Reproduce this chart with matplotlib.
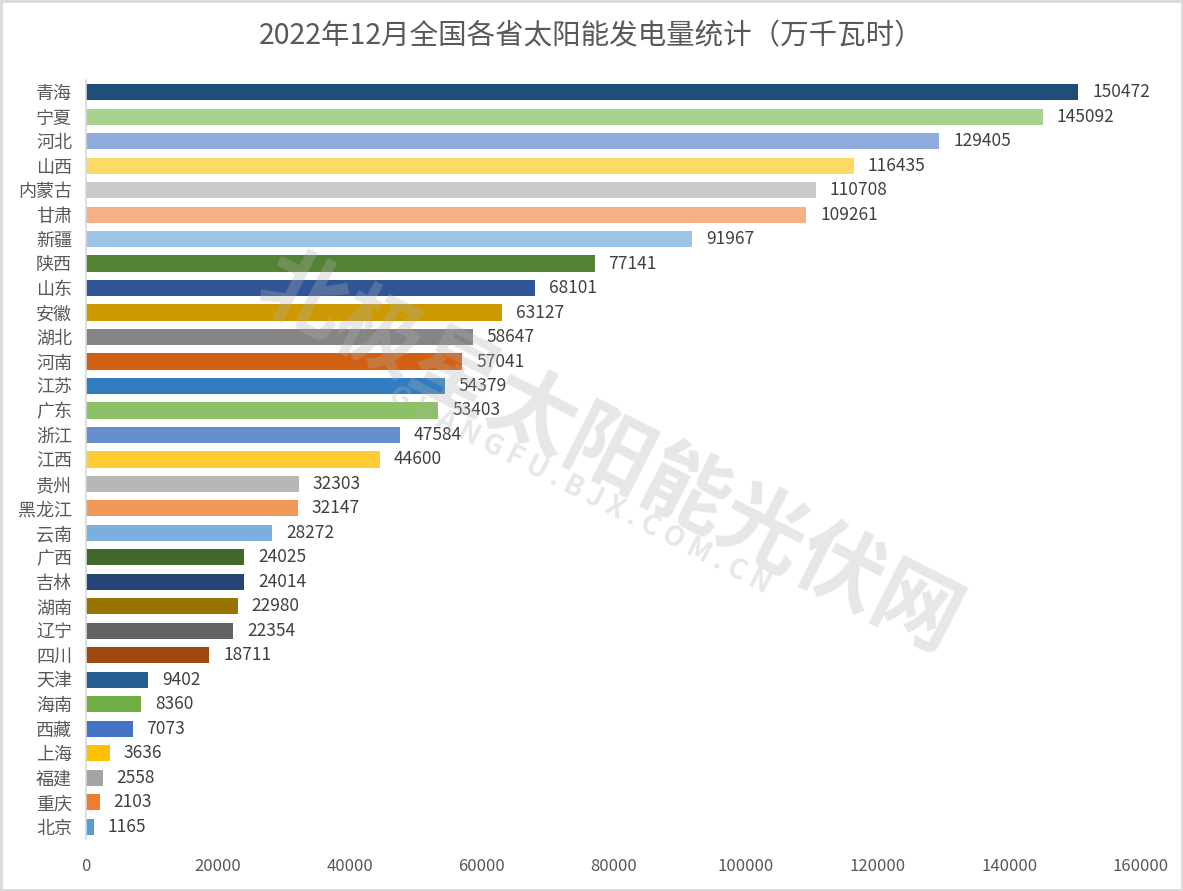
import matplotlib
matplotlib.use("Agg")
import matplotlib.pyplot as plt

plt.rcParams['font.family'] = ['Noto Sans CJK SC', 'DejaVu Sans']

provinces = ['青海', '宁夏', '河北', '山西', '内蒙古', '甘肃', '新疆', '陕西', '山东', '安徽',
             '湖北', '河南', '江苏', '广东', '浙江', '江西', '贵州', '黑龙江', '云南', '广西',
             '吉林', '湖南', '辽宁', '四川', '天津', '海南', '西藏', '上海', '福建', '重庆', '北京']
values = [150472, 145092, 129405, 116435, 110708, 109261, 91967, 77141, 68101, 63127,
          58647, 57041, 54379, 53403, 47584, 44600, 32303, 32147, 28272, 24025,
          24014, 22980, 22354, 18711, 9402, 8360, 7073, 3636, 2558, 2103, 1165]
colors = ['#1F4E79', '#A9D18E', '#8FAADC', '#FFD966', '#C9C9C9', '#F4B183', '#9DC3E6',
          '#548235', '#2F5597', '#CC9A00', '#848484', '#D26012', '#327DC2', '#8CC168',
          '#698ED0', '#FFCD33', '#B7B7B7', '#F1975A', '#7CAFDD', '#43682B', '#264478',
          '#997300', '#636363', '#9E480E', '#255E91', '#70AD47', '#4472C4', '#FFC000',
          '#A5A5A5', '#ED7D31', '#5B9BD5']
xticks = [0, 20000, 40000, 60000, 80000, 100000, 120000, 140000, 160000]

txt = '#595959'
fig = plt.figure(figsize=(11.83, 8.91), dpi=100)
ax = fig.add_axes([0.0727, 0.0584, 0.8918, 0.8519])

pos = list(range(len(provinces)))
ax.barh(pos, values, height=0.66, color=colors)
for p, v in zip(pos, values):
    ax.annotate(str(v), (v, p), xytext=(10, 0), textcoords='offset points',
                va='center', ha='left', fontsize=12.5, color='#404040')

ax.set_ylim(len(provinces) - 0.5, -0.5)
ax.set_xlim(0, 160000)
ax.set_yticks(pos)
ax.set_yticklabels(provinces, fontsize=13, color=txt)
ax.set_xticks(xticks)
ax.set_xticklabels([str(t) for t in xticks], fontsize=12, color=txt)
ax.tick_params(axis='both', length=0)
ax.tick_params(axis='x', pad=14)
ax.tick_params(axis='y', pad=10)
for s in ['top', 'right', 'bottom']:
    ax.spines[s].set_visible(False)
ax.spines['left'].set_color('#D9D9D9')
ax.spines['left'].set_linewidth(1.2)

fig.text(0.5, 0.959, '2022年12月全国各省太阳能发电量统计（万千瓦时）',
         ha='center', va='center', fontsize=20.5, color=txt)

# watermark
fig.text(0.515, 0.49, '北极星太阳能光伏网', ha='center', va='center', rotation=-27,
         fontsize=62, fontweight='bold', color='#B0B0B0', alpha=0.3)
fig.text(0.49, 0.45, 'G U A N G F U . B J X . C O M . C N', ha='center', va='center',
         rotation=-27, fontsize=20, fontweight='bold', color='#B0B0B0', alpha=0.3)

fig.patches.append(plt.Rectangle((0.001, 0.001), 0.998, 0.998, transform=fig.transFigure,
                                 fill=False, edgecolor='#D9D9D9', linewidth=2))

fig.savefig('out.png', dpi=100)
